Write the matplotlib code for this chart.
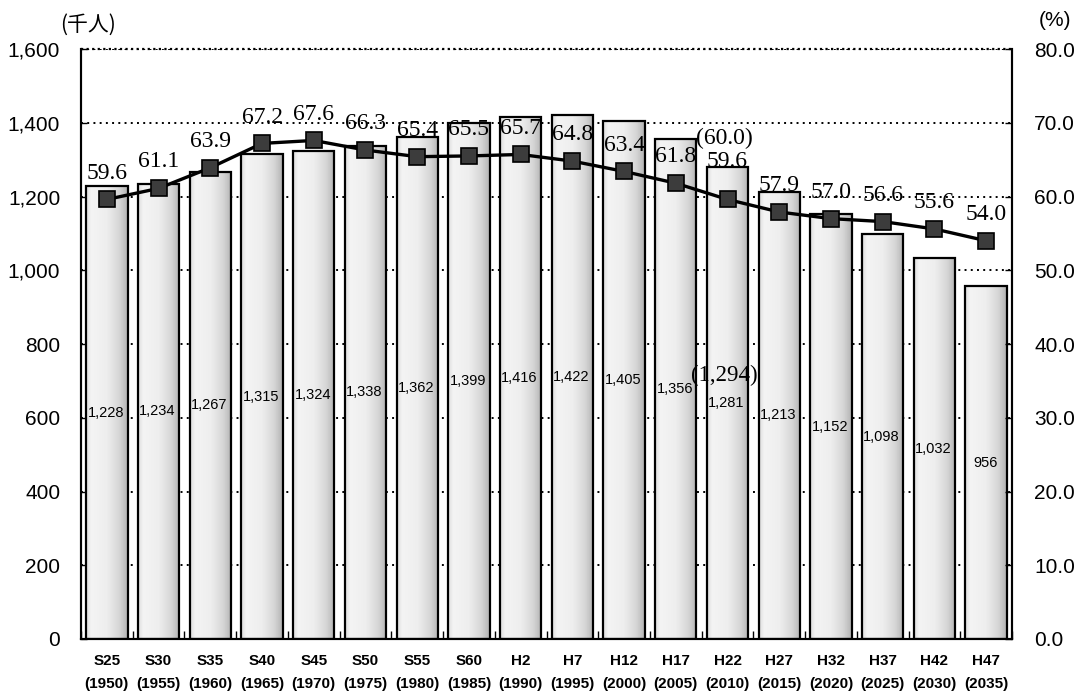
import numpy as np
import matplotlib
matplotlib.use("Agg")
import matplotlib.pyplot as plt
from matplotlib.colors import LinearSegmentedColormap

# ---- data ----
era_labels = ["S25", "S30", "S35", "S40", "S45", "S50", "S55", "S60", "H2", "H7",
              "H12", "H17", "H22", "H27", "H32", "H37", "H42", "H47"]
years = ["1950", "1955", "1960", "1965", "1970", "1975", "1980", "1985", "1990", "1995",
         "2000", "2005", "2010", "2015", "2020", "2025", "2030", "2035"]
population = [1228, 1234, 1267, 1315, 1324, 1338, 1362, 1399, 1416, 1422,
              1405, 1356, 1281, 1213, 1152, 1098, 1032, 956]
ratio = [59.6, 61.1, 63.9, 67.2, 67.6, 66.3, 65.4, 65.5, 65.7, 64.8,
         63.4, 61.8, 59.6, 57.9, 57.0, 56.6, 55.6, 54.0]
extra_pop_label = "(1,294)"   # H22 actual value
extra_ratio_label = "(60.0)"  # H22 actual value
extra_index = 12

left_ticks = [0, 200, 400, 600, 800, 1000, 1200, 1400, 1600]
right_ticks = [0, 10, 20, 30, 40, 50, 60, 70, 80]

W, H = 1084, 694
fig = plt.figure(figsize=(W / 100, H / 100), dpi=100)
ax = fig.add_axes([81 / W, 1 - 639 / H, (1012 - 81) / W, (639 - 49) / H])
ax2 = ax.twinx()

x = np.arange(len(population))
ax.set_xlim(-0.5, len(population) - 0.5)
ax.set_ylim(0, 1600)
ax2.set_ylim(0, 80)

# grid
for v in left_ticks[1:]:
    ax.axhline(v, color="black", lw=1.4, ls=(0, (1, 2.2)), zorder=1)

# bars with stippled-like gradient
cmap = LinearSegmentedColormap.from_list(
    "stip", [(0, "#dedede"), (0.12, "#f4f4f4"), (0.5, "#eeeeee"), (0.8, "#d6d6d6"), (1, "#b4b4b4")])
grad = np.linspace(0, 1, 64).reshape(1, -1)
bars = ax.bar(x, population, width=0.8, color="none", edgecolor="black", linewidth=1.6, zorder=3)
for b in bars:
    x0, y0 = b.get_x(), b.get_y()
    w, h = b.get_width(), b.get_height()
    im = ax.imshow(grad, extent=[x0, x0 + w, y0, y0 + h], aspect="auto", cmap=cmap,
                   vmin=0, vmax=1, zorder=2, interpolation="bilinear")
    im.set_clip_path(b)
ax.set_xlim(-0.5, len(population) - 0.5)
ax.set_ylim(0, 1600)

# bar value labels at half height
for xi, v in zip(x, population):
    ax.text(xi - 0.02, v / 2, f"{v:,}", ha="center", va="center", fontsize=10.5,
            family="Liberation Sans", zorder=5)
ax.annotate(extra_pop_label, (x[extra_index], population[extra_index] / 2),
            xytext=(-2, 20), textcoords="offset points", ha="center", va="center",
            fontsize=16.5, family="Liberation Serif", zorder=5)

# line
ax2.plot(x, ratio, color="black", lw=2.4, marker="s", markersize=11,
         markerfacecolor="#3c3c3c", markeredgecolor="black", markeredgewidth=1.2, zorder=6)
for i, (xi, v) in enumerate(zip(x, ratio)):
    dy = 27 if i == extra_index else 19
    ax2.annotate(f"{v:.1f}", (xi, v), xytext=(0, dy), textcoords="offset points",
                 ha="center", va="center", fontsize=17, family="Liberation Serif", zorder=7)
ax2.annotate(extra_ratio_label, (x[extra_index], ratio[extra_index]), xytext=(-2, 44),
             textcoords="offset points", ha="center", va="center", fontsize=17,
             family="Liberation Serif", zorder=7)

ax.set_zorder(1)
ax2.set_zorder(2)
ax2.patch.set_visible(False)

# axes formatting
ax.set_yticks(left_ticks)
ax.set_yticklabels([f"{v:,}" for v in left_ticks], fontsize=15, family="Liberation Sans")
ax2.set_yticks(right_ticks)
ax2.set_yticklabels([f"{v:.1f}" for v in right_ticks], fontsize=15, family="Liberation Sans")
ax.tick_params(axis="y", direction="in", length=4, width=1, pad=15)
ax2.tick_params(axis="y", direction="in", length=5, width=1, pad=16)

ax.set_xticks(x)
ax.set_xticklabels([f"{e}\n({y})" for e, y in zip(era_labels, years)], fontsize=11,
                   family="Liberation Sans", fontweight="bold", linespacing=1.75)
ax.tick_params(axis="x", which="major", length=0, pad=11)
ax.set_xticks(np.arange(len(population) + 1) - 0.5, minor=True)
ax.tick_params(axis="x", which="minor", direction="in", length=6, width=1)

for a in (ax, ax2):
    a.spines["top"].set_visible(False)
    for s in ("left", "right", "bottom"):
        a.spines[s].set_linewidth(1.5)
ax.axhline(1600, color="black", lw=1.6, ls=(0, (1, 1.5)), zorder=4, clip_on=False)

fig.text(60 / W, 1 - 25 / H, "(千人)", fontsize=15, ha="left", va="center",
         family=["Noto Sans CJK JP", "DejaVu Sans"])
fig.text(1055 / W, 1 - 20 / H, "(%)", fontsize=15, ha="center", va="center",
         family=["Liberation Sans"])

fig.savefig("out.png", dpi=100)
